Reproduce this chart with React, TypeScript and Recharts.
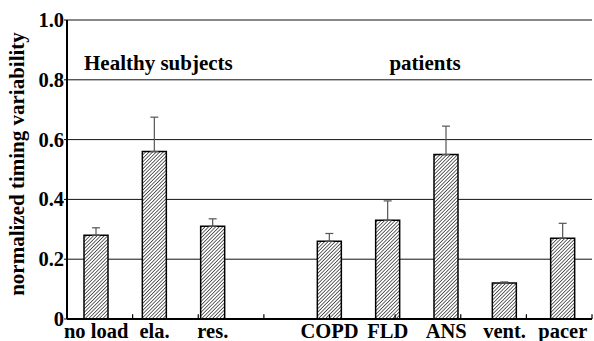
import React from "react";
import {
  BarChart, Bar, XAxis, YAxis, CartesianGrid, ErrorBar, Customized, ReferenceLine,
} from "recharts";

// categories (the blank one is the gap between the two groups)
const categories = ["no load", "ela.", "res.", "", "COPD", "FLD", "ANS", "vent.", "pacer"];
const means = [0.28, 0.56, 0.31, null, 0.26, 0.33, 0.55, 0.12, 0.27];
const upperErrors = [0.025, 0.115, 0.025, 0, 0.026, 0.065, 0.095, 0.004, 0.05];
const yTicks = [0, 0.2, 0.4, 0.6, 0.8, 1.0];
const boundaryTicks = [1, 2, 3, 4, 5, 6, 7, 8];

const data = categories.map((name, i) => ({
  name,
  value: means[i],
  err: [0, upperErrors[i]],
}));

const txt: React.CSSProperties = {
  fontFamily: "Liberation Serif, Times New Roman, serif",
  fontWeight: 700,
};

const YTick = (props: any) => {
  const { x, y, payload } = props;
  const v = payload.value;
  return (
    <text x={x} y={y} dy={7} textAnchor="end" style={{ ...txt, fontSize: 20.5 }} fill="#000">
      {v === 0 ? "0" : v.toFixed(1)}
    </text>
  );
};

const XTick = (props: any) => {
  const { x, y, payload } = props;
  return (
    <text x={x} y={y} dy={19} textAnchor="middle" style={{ ...txt, fontSize: 20.5 }} fill="#000">
      {payload.value}
    </text>
  );
};

const Annotations = () => (
  <g fill="#000">
    <text x={84} y={69.5} style={{ ...txt, fontSize: 21 }}>Healthy subjects</text>
    <text x={425} y={70} textAnchor="middle" style={{ ...txt, fontSize: 21 }}>patients</text>
    <text transform="translate(24,164) rotate(-90)" textAnchor="middle" style={{ ...txt, fontSize: 21 }}>
      normalized timing variability
    </text>
  </g>
);

export default function App() {
  return (
    <div style={{ position: "absolute", left: 0, top: 0, background: "#fff" }}>
      <BarChart width={594} height={341} data={data} margin={{ top: 20, right: 2, bottom: 0, left: 0 }}>
        <defs>
          <pattern id="hatch" patternUnits="userSpaceOnUse" width={2.5} height={2.5} patternTransform="rotate(45)">
            <rect width={2.5} height={2.5} fill="#fff" />
            <line x1={0} y1={0} x2={0} y2={2.5} stroke="#000" strokeWidth={1.2} />
          </pattern>
        </defs>
        <CartesianGrid vertical={false} stroke="#111" strokeWidth={1} />
        {/* hidden number axis used for the category-boundary tick marks */}
        <XAxis xAxisId="t" type="number" domain={[0, 9]} hide />
        <XAxis
          xAxisId="cat"
          dataKey="name"
          height={22}
          tickLine={false}
          tickSize={0}
          tickMargin={0}
          interval={0}
          axisLine={{ stroke: "#000", strokeWidth: 2 }}
          tick={<XTick />}
        />
        <YAxis
          domain={[0, 1]}
          ticks={yTicks}
          width={67}
          tickSize={3}
          tickMargin={0}
          tickLine={{ stroke: "#000" }}
          axisLine={{ stroke: "#000", strokeWidth: 2 }}
          tick={<YTick />}
          interval={0}
        />
        <YAxis
          yAxisId="r"
          orientation="right"
          domain={[0, 1]}
          width={0}
          tick={false}
          tickLine={false}
          axisLine={{ stroke: "#222", strokeWidth: 1.5 }}
        />
        {boundaryTicks.map((b) => (
          <ReferenceLine
            key={b}
            xAxisId="t"
            segment={[{ x: b, y: 0 }, { x: b, y: 0.016 }]}
            stroke="#000"
            strokeWidth={1.2}
          />
        ))}
        <Bar
          xAxisId="cat"
          dataKey="value"
          barSize={24}
          fill="url(#hatch)"
          stroke="#000"
          strokeWidth={1.5}
          isAnimationActive={false}
        >
          <ErrorBar dataKey="err" direction="y" width={4} stroke="#555" strokeWidth={1.2} />
        </Bar>
        <Customized component={Annotations} />
      </BarChart>
    </div>
  );
}
